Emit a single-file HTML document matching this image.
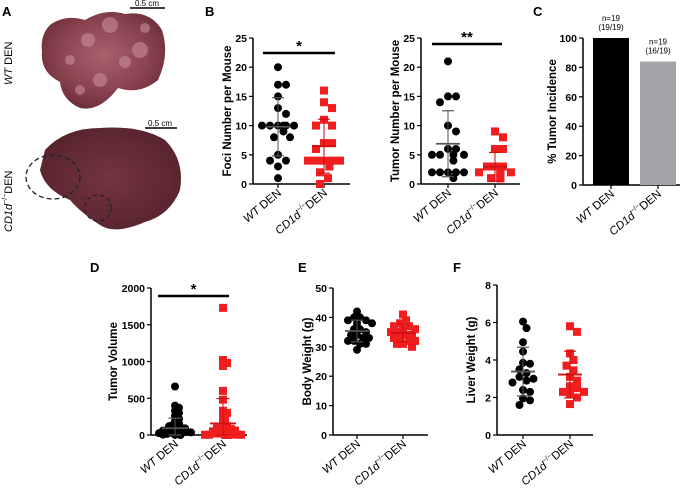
<!DOCTYPE html>
<html><head><meta charset="utf-8">
<style>
html,body{margin:0;padding:0;background:#fff;}
svg{display:block;font-family:"Liberation Sans",Arial,sans-serif;}
</style></head>
<body>
<svg id="fig" width="685" height="497" viewBox="0 0 685 497">
<defs>
<radialGradient id="liv1" cx="50%" cy="45%" r="60%">
<stop offset="0" stop-color="#a9616c"/><stop offset="0.6" stop-color="#8a4350"/><stop offset="1" stop-color="#6a2c36"/></radialGradient>
<radialGradient id="liv2" cx="50%" cy="50%" r="60%">
<stop offset="0" stop-color="#74353f"/><stop offset="1" stop-color="#55222c"/></radialGradient>
</defs>
<g>
<text x="2" y="16" font-size="13" font-weight="bold">A</text>
<path d="M50,25 Q65,14 85,20 Q105,8 125,14 Q150,10 162,30 Q170,55 158,80 Q140,95 118,88 Q100,112 80,108 Q62,100 60,82 Q40,72 42,52 Q40,35 50,25Z" fill="url(#liv1)"/>
<g fill="#c98d98" opacity="0.6"><circle cx="110" cy="25" r="8"/><circle cx="88" cy="40" r="7"/><circle cx="140" cy="50" r="8"/><circle cx="100" cy="80" r="7"/><circle cx="125" cy="62" r="6"/><circle cx="70" cy="60" r="5"/><circle cx="145" cy="28" r="5"/><circle cx="80" cy="90" r="5"/></g>
<line x1="130" y1="8" x2="165" y2="8" stroke="#000" stroke-width="1.5"/>
<text x="147" y="6" font-size="8" text-anchor="middle">0.5 cm</text>
<text transform="translate(12,85) rotate(-90)" font-size="11"><tspan font-style="italic">WT</tspan> DEN</text>
<path d="M45,150 Q65,128 100,128 Q140,125 165,140 Q185,160 180,190 Q170,215 145,222 Q115,235 100,225 Q80,212 70,200 Q45,190 40,170Z" fill="url(#liv2)"/>
<ellipse cx="53" cy="177" rx="27" ry="22" fill="none" stroke="#222" stroke-width="1.3" stroke-dasharray="5,3"/>
<circle cx="98" cy="208" r="13" fill="none" stroke="#222" stroke-width="1.3" stroke-dasharray="4,3"/>
<line x1="145" y1="128" x2="177" y2="128" stroke="#000" stroke-width="1.5"/>
<text x="160" y="126" font-size="8" text-anchor="middle">0.5 cm</text>
<text transform="translate(12,232) rotate(-90)" font-size="11"><tspan font-style="italic">CD1d</tspan><tspan font-size="7" dy="-5">−/−</tspan><tspan dy="5">DEN</tspan></text>
</g>
<text x="205" y="16" font-size="13" font-weight="bold">B</text>
<text x="533" y="16" font-size="13" font-weight="bold">C</text>
<text x="90" y="272" font-size="13" font-weight="bold">D</text>
<text x="298" y="272" font-size="13" font-weight="bold">E</text>
<text x="453" y="272" font-size="13" font-weight="bold">F</text>
<g id="plots"></g>
</svg>
<script>
// Panel B1 foci
const fociWT=[20,17,17,15,13,12,10,10,10,10,10,10,9,8,8,5,4,4,3,1];
const fociCD=[16,14,13,11,10,10,7,7,6,4,4,4,4,4,3,3,2,1,0];
const fociTicks=[0,5,10,15,20,25];
// Panel B2 tumor number
const tumWT=[21,15,15,14,10,9,6,6,5,5,5,5,4,2,2,2,2,2,1];
const tumCD=[9,8,6,6,3,3,3,2,2,2,2,2,2,1,1,1,1,1,1];
const tumTicks=[0,5,10,15,20,25];
// Panel C incidence
const incVals=[100,84];
const incN=["n=19","n=19"];
const incFrac=["(19/19)","(16/19)"];
const incTicks=[0,20,40,60,80,100];
// Panel D tumor volume
const volWT=[660,400,370,330,300,260,220,190,160,140,120,110,100,90,80,70,60,50,45,40,35,30,25,20,15,12,10,8,6,5,4,3,3,2,2,1,1,1,50,40,30,20,15,10,5];
const volCD=[1730,1020,980,940,600,480,330,300,250,200,150,120,100,90,80,60,50,40,30,20,10,5,5,4,3,3,2,2,1,1,1,1,60,50,40,30,20,15,10,8,6,4,3,2,1,1,1,1,1,1];
const volTicks=[0,500,1000,1500,2000];
// Panel E body weight
const bwWT=[42,40,40,39,39,38,38,36,36,35,34,34,33,33,32,32,31,31,29];
const bwCD=[41,39,38,37,37,36,36,35,35,34,34,33,33,32,32,31,31,30];
const bwTicks=[0,10,20,30,40,50];
// Panel F liver weight
const lwWT=[6.05,5.7,4.95,4.45,3.85,3.8,3.5,3.3,3.1,3.0,2.9,2.8,2.4,2.3,1.95,1.85,1.6];
const lwCD=[5.8,5.5,4.35,4.0,3.7,3.45,3.1,2.9,2.6,2.5,2.3,2.3,2.2,2.0,1.65];
const lwTicks=[0,2,4,6,8];

const NS="http://www.w3.org/2000/svg";
const root=document.getElementById('plots');
function mk(tag,at,parent){const e=document.createElementNS(NS,tag);for(const k in at)e.setAttribute(k,at[k]);(parent||root).appendChild(e);return e;}
function mean(a){return a.reduce((s,v)=>s+v,0)/a.length;}
function sd(a){const m=mean(a);return Math.sqrt(a.reduce((s,v)=>s+(v-m)*(v-m),0)/(a.length-1));}

function axes(g,ax,y0,ytop,xend,ticks,max,title,catsX,toff){
  const sy=v=>y0-(v/max)*(y0-ytop);
  const yl=mk('line',{x1:ax,y1:y0,x2:ax,y2:ytop,stroke:'#000','stroke-width':1.5},g);
  
  
  const xl=mk('line',{x1:ax,y1:y0,x2:xend,y2:y0,stroke:'#000','stroke-width':1.5},g);
  
  
  ticks.forEach(t=>{
    mk('line',{x1:ax-4,y1:sy(t),x2:ax,y2:sy(t),stroke:'#000','stroke-width':1.2},g);
    const tx=mk('text',{x:ax-6,y:sy(t)+4,'font-size':10.5,'font-weight':'bold','text-anchor':'end'},g);
    tx.textContent=t;
    
    
  });
  const tt=mk('text',{transform:`translate(${ax-toff},${(y0+ytop)/2}) rotate(-90)`,'font-size':11.5,'font-weight':'bold','text-anchor':'middle'},g);
  tt.textContent=title;
  
  
  catsX.forEach((cx,i)=>{
    mk('line',{x1:cx,y1:y0,x2:cx,y2:y0+4,stroke:'#000','stroke-width':1.2},g);
    const l=mk('text',{transform:`translate(${cx+4},${y0+10}) rotate(-40)`,'font-size':11.5,'text-anchor':'end'},g);
    if(i===0){l.innerHTML='<tspan font-style="italic">WT</tspan> DEN';}
    else{l.innerHTML='<tspan font-style="italic">CD1d</tspan><tspan font-size="7" dy="-5">−/−</tspan><tspan dy="5">DEN</tspan>';}
    
    
  });
  return sy;
}
// beeswarm: place each point at the closest free horizontal slot
function dots(g,vals,cx,sy,color,square,r,minD,maxOff){
  const placed=[];
  vals.forEach(v=>{
    const y=sy(v);
    let x=cx;
    for(let k=0;k<60;k++){
      const off=(k===0?0:(k%2?1:-1)*Math.ceil(k/2))*(minD*0.5);
      if(Math.abs(off)>maxOff){x=cx+((k%2?1:-1)*maxOff*((k*7)%10)/10);break;}
      const tx=cx+off;
      if(!placed.some(p=>Math.hypot(p[0]-tx,p[1]-y)<minD)){x=tx;break;}
    }
    placed.push([x,y]);
    let e;
    if(square){e=mk('rect',{x:x-r,y:y-r,width:2*r,height:2*r,fill:color},g);}
    else{e=mk('circle',{cx:x,cy:y,r:r,fill:color},g);}
    
    
  });
}
function errbar(g,vals,cx,sy,color,w){
  const m=mean(vals),s=sd(vals);
  const lo=Math.max(0,m-s);
  mk('line',{x1:cx,y1:sy(lo),x2:cx,y2:sy(m+s),stroke:color,'stroke-width':1.2,opacity:0.85},g);
  mk('line',{x1:cx-w*0.5,y1:sy(m+s),x2:cx+w*0.5,y2:sy(m+s),stroke:color,'stroke-width':1.2},g);
  mk('line',{x1:cx-w*0.5,y1:sy(lo),x2:cx+w*0.5,y2:sy(lo),stroke:color,'stroke-width':1.2},g);
  const ml=mk('line',{x1:cx-w,y1:sy(m),x2:cx+w,y2:sy(m),stroke:color,'stroke-width':1.8},g);
  
  
}
function sig(g,x1,x2,y,txt){
  mk('line',{x1:x1,y1:y,x2:x2,y2:y,stroke:'#000','stroke-width':2.5},g);
  const t=mk('text',{x:(x1+x2)/2,y:y-2,'font-size':15,'font-weight':'bold','text-anchor':'middle'},g);
  t.textContent=txt;
  
  
}
function scatterPanel(name,ax,y0,ytop,xend,ticks,title,wx,cx,A,B,r,minD,maxOff,w,sg,toff){
  const g=mk('g',{});
  
  
  const max=ticks[ticks.length-1];
  const sy=axes(g,ax,y0,ytop,xend,ticks,max,title,[wx,cx],toff);
  dots(g,A,wx,sy,'#000',false,r,minD,maxOff);
  dots(g,B,cx,sy,'#f01e1e',true,r,minD,maxOff);
  errbar(g,A,wx,sy,'#555',w);
  errbar(g,B,cx,sy,'#d01010',w);
  if(sg)sig(g,sg[0],sg[1],sg[2],sg[3]);
}
scatterPanel('foci-chart',253,184,38,350,fociTicks,'Foci Number per Mouse',278,324,fociWT,fociCD,4,8,18,12,[263,335,53,'*'],22);
scatterPanel('tumor-number-chart',421,184,38,520,tumTicks,'Tumor Number per Mouse',448,495,tumWT,tumCD,4,8,18,12,[432,502,44,'**'],22);
scatterPanel('tumor-volume-chart',151,435,288,247,volTicks,'Tumor Volume',175,223,volWT,volCD,4,4,18,13,[158,229,296,'*'],34);
scatterPanel('body-weight-chart',333,435,288,428,bwTicks,'Body Weight (g)',357,403,bwWT,bwCD,4,6,18,12,null,22);
scatterPanel('liver-weight-chart',497,435,285,593,lwTicks,'Liver Weight (g)',523,570,lwWT,lwCD,4,7,18,12,null,22);

// Panel C bars
(function(){
  const g=mk('g',{});
  
  
  const ax=583,y0=185,ytop=38;
  const catX=[611,658];
  const sy=axes(g,ax,y0,ytop,680,incTicks,100,'% Tumor Incidence',catX,27);
  const colors=['#000','#a3a3a8'];
  incVals.forEach((v,i)=>{
    const b=mk('rect',{x:catX[i]-18,y:sy(v),width:36,height:y0-sy(v),fill:colors[i]},g);
    
    
    const t1=mk('text',{x:catX[i],y:sy(v)-17,'font-size':8,'text-anchor':'middle'},g);
    t1.textContent=incN[i];
    
    
    const t2=mk('text',{x:catX[i],y:sy(v)-8,'font-size':8,'text-anchor':'middle'},g);
    t2.textContent=incFrac[i];
    
    
  });
})();
</script>
</body></html>
